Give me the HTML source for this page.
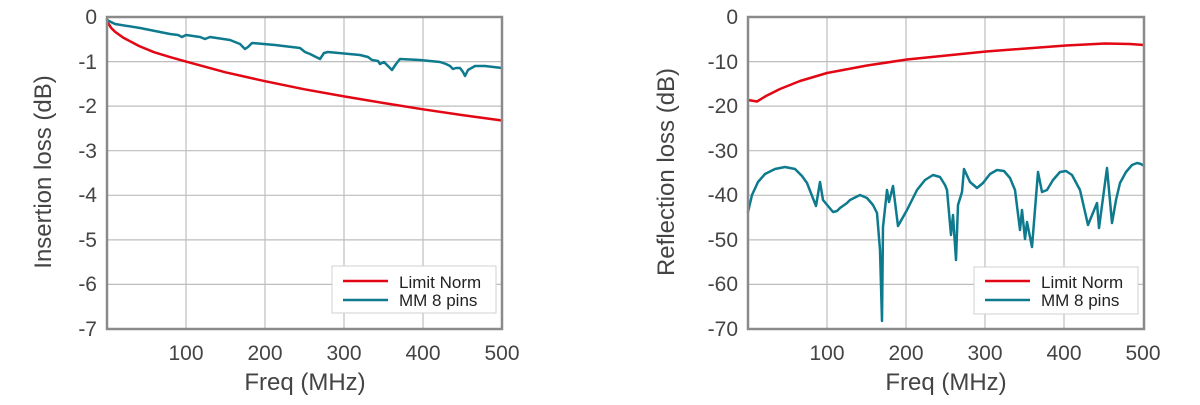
<!DOCTYPE html>
<html><head><meta charset="utf-8"><style>
body{margin:0;background:#fff;}
svg text{font-family:"Liberation Sans",sans-serif;fill:#444;}
polyline{stroke-linejoin:round;stroke-linecap:round;}
</style></head><body>
<svg width="1200" height="400" viewBox="0 0 1200 400" xmlns="http://www.w3.org/2000/svg">
<!-- LEFT -->
<g stroke="#bdbdbd" stroke-width="1.2">
<line x1="186" y1="17" x2="186" y2="329"/><line x1="265" y1="17" x2="265" y2="329"/><line x1="344" y1="17" x2="344" y2="329"/><line x1="423" y1="17" x2="423" y2="329"/>
<line x1="107" y1="61.6" x2="502" y2="61.6"/><line x1="107" y1="106.1" x2="502" y2="106.1"/><line x1="107" y1="150.7" x2="502" y2="150.7"/><line x1="107" y1="195.3" x2="502" y2="195.3"/><line x1="107" y1="239.9" x2="502" y2="239.9"/><line x1="107" y1="284.4" x2="502" y2="284.4"/>
</g>
<polyline fill="none" stroke="#e30613" stroke-width="2.5" points="107,19 107.8,22.4 111,27.7 115,31.7 123,37.5 139,46 154,52.2 170,57.1 186,61.6 225.5,72.3 265,81.2 304.5,89.3 344,96.4 383.5,103 423,109.3 462.5,115.1 502,120.5"/>
<polyline fill="none" stroke="#0e7a8e" stroke-width="2.5" points="107,20 115,24 140,28 160,32 170,34 178,35 182,37 186,35 200,37 205,39 210,37 230,40 240,44 245,49 248,47 252,43 275,45 300,48 305,52 310,54 316,57 320,59 324,53 328,52 360,55 368,57 372,60 378,61 380,64 384,62 388,66 392,70 396,64 400,59 420,60 440,62 446,64 450,66 453,69 456,68 460,68 463,72 465,76 468,70 475,66 485,66 502,68"/>
<rect x="107" y="17" width="395" height="312" fill="none" stroke="#8a8a8a" stroke-width="2.5"/>
<rect x="332" y="266" width="164" height="47" fill="#fff" stroke="#d0d0d0" stroke-width="1"/>
<line x1="343" y1="281" x2="388" y2="281" stroke="#e30613" stroke-width="2.5"/>
<line x1="343" y1="300" x2="388" y2="300" stroke="#0e7a8e" stroke-width="2.5"/>
<text x="399" y="288" font-size="17" style="fill:#222">Limit Norm</text>
<text x="399" y="306" font-size="17" style="fill:#222">MM 8 pins</text>
<g font-size="21" text-anchor="end">
<text x="97" y="24">0</text><text x="97" y="69">-1</text><text x="97" y="113">-2</text><text x="97" y="158">-3</text><text x="97" y="202">-4</text><text x="97" y="247">-5</text><text x="97" y="291">-6</text><text x="97" y="336">-7</text>
</g>
<g font-size="21" text-anchor="middle">
<text x="186" y="360">100</text><text x="265" y="360">200</text><text x="344" y="360">300</text><text x="423" y="360">400</text><text x="502" y="360">500</text>
</g>
<text x="305" y="390" font-size="24" text-anchor="middle">Freq (MHz)</text>
<text transform="translate(51,172) rotate(-90)" font-size="24" text-anchor="middle">Insertion loss (dB)</text>

<!-- RIGHT -->
<g stroke="#bdbdbd" stroke-width="1.2">
<line x1="827" y1="17" x2="827" y2="329"/><line x1="906" y1="17" x2="906" y2="329"/><line x1="985" y1="17" x2="985" y2="329"/><line x1="1064" y1="17" x2="1064" y2="329"/>
<line x1="748" y1="61.6" x2="1144" y2="61.6"/><line x1="748" y1="106.1" x2="1144" y2="106.1"/><line x1="748" y1="150.7" x2="1144" y2="150.7"/><line x1="748" y1="195.3" x2="1144" y2="195.3"/><line x1="748" y1="239.9" x2="1144" y2="239.9"/><line x1="748" y1="284.4" x2="1144" y2="284.4"/>
</g>
<polyline fill="none" stroke="#e30613" stroke-width="2.5" points="748,100 757,101.5 766,96 780,89 800,81 827,73 867,65.5 907,59.5 986,51.5 1066,45.5 1105,43.5 1130,44 1144,45"/>
<polyline fill="none" stroke="#0e7a8e" stroke-width="2.5" points="748,212 752,195 758,182 765,174 775,169 785,167 795,169 802,176 807,183 816,206 820,182 823,200 833,212 837,211 840,208 847,203 850,200 860,195 867,198 873,205 877,213 880,250 882,321 883,227 887,190 889,202 893,186 898,226 907,210 917,190 925,180 933,175 940,177 945,185 947,190 951,235 953,215 956,260 958,205 962,192 964,169 970,182 977,188 983,183 990,174 997,170 1004,171 1010,178 1015,190 1020,230 1022,210 1025,239 1027,222 1032,247 1038,172 1042,192 1047,190 1053,180 1060,172 1066,171 1072,175 1080,190 1088,225 1097,203 1099,228 1107,168 1112,223 1116,200 1120,183 1126,172 1132,165 1137,163 1141,164 1144,166"/>
<rect x="748" y="17" width="396" height="312" fill="none" stroke="#8a8a8a" stroke-width="2.5"/>
<rect x="974" y="267" width="164" height="47" fill="#fff" stroke="#d0d0d0" stroke-width="1"/>
<line x1="985" y1="281" x2="1030" y2="281" stroke="#e30613" stroke-width="2.5"/>
<line x1="985" y1="300" x2="1030" y2="300" stroke="#0e7a8e" stroke-width="2.5"/>
<text x="1041" y="288" font-size="17" style="fill:#222">Limit Norm</text>
<text x="1041" y="306" font-size="17" style="fill:#222">MM 8 pins</text>
<g font-size="21" text-anchor="end">
<text x="738" y="24">0</text><text x="738" y="69">-10</text><text x="738" y="113">-20</text><text x="738" y="158">-30</text><text x="738" y="202">-40</text><text x="738" y="247">-50</text><text x="738" y="291">-60</text><text x="738" y="336">-70</text>
</g>
<g font-size="21" text-anchor="middle">
<text x="827" y="360">100</text><text x="906" y="360">200</text><text x="985" y="360">300</text><text x="1064" y="360">400</text><text x="1143" y="360">500</text>
</g>
<text x="946" y="390" font-size="24" text-anchor="middle">Freq (MHz)</text>
<text transform="translate(674,172) rotate(-90)" font-size="24" text-anchor="middle">Reflection loss (dB)</text>
</svg>
</body></html>
